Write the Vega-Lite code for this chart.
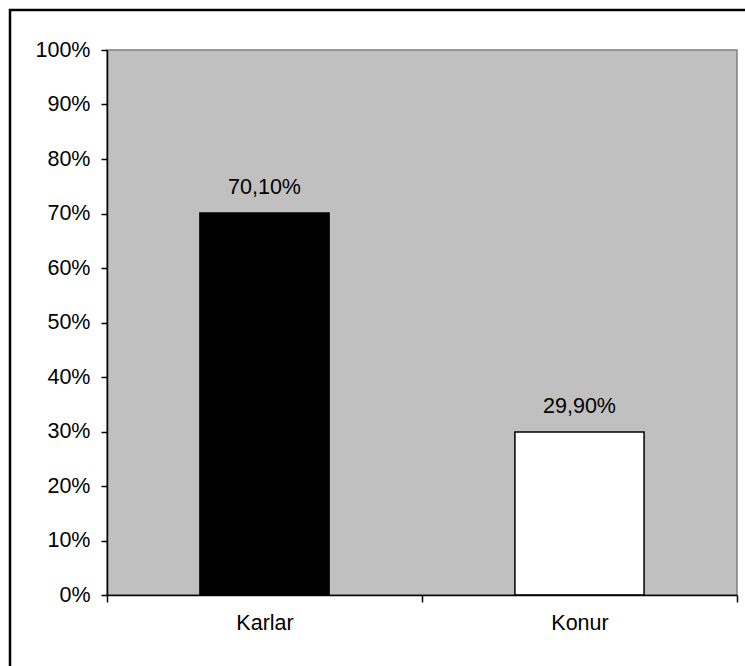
{
  "$schema": "https://vega.github.io/schema/vega-lite/v6.json",
  "width": 740,
  "height": 660,
  "autosize": {"type": "none"},
  "padding": {"left": 10, "top": 10, "right": 0, "bottom": 0},
  "background": "white",
  "config": {
    "locale": {"number": {"decimal": ",", "thousands": ".", "grouping": [3], "currency": ["", " TL"]}},
    "view": {"stroke": "black", "strokeWidth": 2.5, "fill": "white"},
    "font": "Liberation Sans"
  },
  "layer": [
    {
      "data": {"values": [{}]},
      "mark": {"type": "rect", "fill": "#C0C0C0", "stroke": "#808080", "strokeWidth": 1.5},
      "encoding": {
        "x": {"datum": 0, "type": "quantitative", "scale": {"domain": [0, 1], "range": [97, 727], "nice": false}, "axis": null},
        "x2": {"datum": 1},
        "y": {"datum": 0, "type": "quantitative", "scale": {"domain": [0, 1], "range": [585, 40], "nice": false}, "axis": null},
        "y2": {"datum": 1}
      }
    },
    {
      "data": {"values": [
        {"cinsiyet": "Karlar", "oran": 0.701},
        {"cinsiyet": "Konur", "oran": 0.299}
      ]},
      "encoding": {
        "x": {
          "field": "cinsiyet", "type": "nominal", "sort": null,
          "scale": {"type": "band", "range": [97, 727], "paddingInner": 0, "paddingOuter": 0},
          "axis": {
            "orient": "bottom", "offset": -75, "zindex": 1, "title": null,
            "tickBand": "extent", "labelAngle": 0,
            "domainColor": "black", "domainWidth": 1.5,
            "tickColor": "black", "tickWidth": 1.5, "tickSize": 7,
            "labelPadding": 10, "labelFontSize": 21.5, "labelColor": "black", "labelFont": "Liberation Sans"
          }
        },
        "y": {
          "field": "oran", "type": "quantitative",
          "scale": {"domain": [0, 1], "range": [585, 40], "nice": false, "zero": true},
          "axis": {
            "orient": "left", "offset": -97, "zindex": 1, "title": null, "grid": false,
            "format": ".0%", "values": [0, 0.1, 0.2, 0.3, 0.4, 0.5, 0.6, 0.7, 0.8, 0.9, 1],
            "domainColor": "black", "domainWidth": 1.5,
            "tickColor": "black", "tickWidth": 1.5, "tickSize": 6,
            "labelPadding": 11, "labelFontSize": 21.5, "labelColor": "black", "labelFont": "Liberation Sans",
            "labelOverlap": false, "labelFlush": false
          }
        }
      },
      "layer": [
        {
          "mark": {"type": "bar", "stroke": "black", "strokeWidth": 1.5, "width": {"band": 0.41}},
          "encoding": {
            "color": {"field": "cinsiyet", "type": "nominal", "scale": {"range": ["#000000", "#FFFFFF"]}, "legend": null}
          }
        },
        {
          "mark": {"type": "text", "baseline": "alphabetic", "dy": -19, "fontSize": 21.5, "color": "black", "font": "Liberation Sans"},
          "encoding": {
            "text": {"field": "oran", "type": "quantitative", "format": ".2%"}
          }
        }
      ]
    }
  ],
  "resolve": {"scale": {"x": "independent", "y": "independent"}, "axis": {"x": "independent", "y": "independent"}}
}
